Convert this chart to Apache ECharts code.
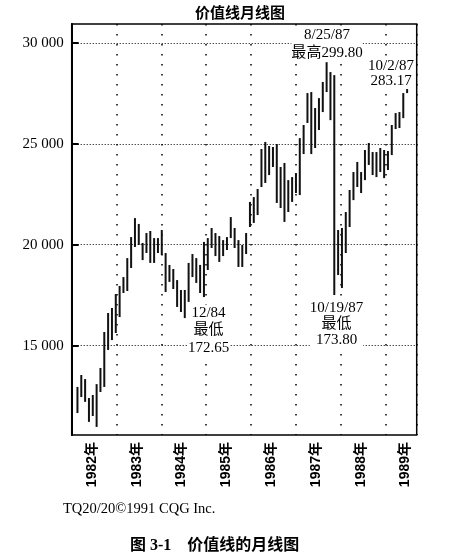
<!DOCTYPE html>
<html><head><meta charset="utf-8">
<script src="https://cdn.jsdelivr.net/npm/echarts@6/dist/echarts.min.js"></script>
<style>html,body{margin:0;padding:0;background:#fff}#c{width:453px;height:556px}</style>
</head><body><div id="c"></div>
<script>
// ---- data ----
const yearLabels = [1982, 1983, 1984, 1985, 1986, 1987, 1988, 1989];
const yTicks = [15000, 20000, 25000, 30000];
// 90 monthly periods on the axis, first bar in 1982-01
const categories = Array.from({length: 90}, (_, k) => {
  const m = 11 + k;
  return (1981 + Math.floor(m / 12)) + '-' + String(m % 12 + 1).padStart(2, '0');
});
const firstBarPeriod = '1982-01';
const lows = [
  11670, 12460, 12220, 11230, 11520, 10980, 12710, 12960, 14790, 15280,
  15630, 16420, 17610, 17710, 18850, 19890, 19990, 19240, 19590, 19100,
  19100, 19590, 19490,
  17660, 18160, 17810, 16920, 16670, 16370, 17170, 18400, 18110, 17610,
  17410, 18750, 19840, 19440, 19150, 19440, 19740, 20330, 19840, 18900,
  18900, 19540, 20880,
  21080, 21470, 22860, 23060, 23450, 23850, 22070, 21820, 21130, 21620,
  22120, 22560, 22460, 24490, 26030, 24490, 24790, 25680, 26570, 27560,
  26170, 17510,
  18500, 17860, 19590, 20880, 22210, 22860, 22560, 23200, 23950, 23450,
  23350, 23600, 23300, 23700, 24440, 25730, 25780, 26270, 27510
];
const highs = [
  12960, 13550, 13350, 12410, 12560, 13100, 13900, 15680, 16620, 16870,
  17560, 17960, 18400, 19340, 20380, 21320, 21030, 20090, 20580, 20680,
  20330, 20330, 20730,
  19590, 19000, 18800, 18250, 17760, 17760, 19100, 19540, 19340, 19000,
  20140, 20330, 20830, 20580, 20430, 20230, 20380, 21370, 20830, 20230,
  19990, 20580, 22120,
  22360, 22760, 24740, 25090, 24890, 24840, 24990, 23850, 24050, 23200,
  23350, 23550, 25280, 25930, 27510, 27560, 26770, 27260, 28060, 29040,
  28550, 28400,
  20730, 20830, 21620, 22710, 23600, 24100, 23600, 24690, 25040, 24590,
  24590, 24790, 24690, 24640, 25930, 26520, 26570, 27510, 27710
];
const titleText = '价值线月线图';
const notePeak = '8/25/87\n最高299.80';
const noteLast = '10/2/87\n283.17';
const noteLow84 = '12/84\n最低\n172.65';
const noteLow87 = '10/19/87\n最低\n173.80';
const sourceText = 'TQ20/20©1991 CQG Inc.';
const captionText = '图 3-1    价值线的月线图';

// ---- chart ----
const SERIF = "'Liberation Serif','Noto Sans CJK SC',serif";
const SANS = "'Liberation Sans','Noto Sans CJK SC',sans-serif";
const off = categories.indexOf(firstBarPeriod);
const barData = highs.map((h, i) => [off + i, lows[i], h]);

const chart = echarts.init(document.getElementById('c'), null, {renderer: 'canvas'});
chart.setOption({
  animation: false,
  backgroundColor: '#fff',
  grid: {left: 71.7, right: 36.3, top: 24, bottom: 121, show: true,
         borderColor: '#000', borderWidth: 1.5, backgroundColor: 'transparent'},
  xAxis: [
    {type: 'category', data: categories, boundaryGap: true, show: false},
    {type: 'value', min: 1982, max: 1989.7, interval: 1, position: 'bottom',
     axisLine: {show: false}, axisTick: {show: false},
     splitLine: {show: true, lineStyle: {color: '#000', type: [1.5, 8.5], width: 1.5}},
     axisLabel: {customValues: yearLabels.map(y => y + 0.45), rotate: 90,
       formatter: v => Math.floor(v + 0.001) + '年', margin: 7,
       fontSize: 14, fontWeight: 'bold', fontFamily: SANS, color: '#000'}}
  ],
  yAxis: {type: 'value', min: 10580, max: 30930,
    axisLine: {show: true, lineStyle: {color: '#000', width: 2}},
    axisTick: {show: true, inside: true, length: 7, customValues: yTicks,
               lineStyle: {color: '#000', width: 2}},
    axisLabel: {customValues: yTicks, margin: 8, fontSize: 15, fontFamily: SERIF, color: '#000',
      formatter: v => String(v).replace(/\B(?=(\d{3})+$)/g, ' ')},
    splitLine: {show: false}},
  series: [{
    type: 'custom', xAxisIndex: 0, yAxisIndex: 0, data: barData,
    encode: {x: 0, y: [1, 2]},
    renderItem: (params, api) => {
      const x = api.value(0);
      const lo = api.coord([x, api.value(1)]);
      const hi = api.coord([x, api.value(2)]);
      return {type: 'line', shape: {x1: lo[0], y1: lo[1], x2: hi[0], y2: hi[1]},
              style: {stroke: '#111', lineWidth: 2}};
    },
    markLine: {silent: true, symbol: ['none', 'none'], label: {show: false},
      lineStyle: {color: '#000', type: [1, 2], width: 1.2},
      data: yTicks.map(v => ({yAxis: v}))}
  }],
  graphic: [
    {type: 'text', z: 100, x: 240, y: 12, style: {text: titleText, textAlign: 'center', textVerticalAlign: 'middle',
      font: "bold 15px 'Noto Sans CJK SC'", fill: '#000'}},
    {type: 'text', z: 100, x: 327, y: 44, style: {text: notePeak, textAlign: 'center', textVerticalAlign: 'middle',
      font: '15px ' + SERIF, lineHeight: 18, fill: '#000', backgroundColor: '#fff'}},
    {type: 'text', z: 100, x: 391, y: 73.5, style: {text: noteLast, textAlign: 'center', textVerticalAlign: 'middle',
      font: '15px ' + SERIF, lineHeight: 15, fill: '#000', backgroundColor: '#fff'}},
    {type: 'text', z: 100, x: 208.5, y: 330.5, style: {text: noteLow84, textAlign: 'center', textVerticalAlign: 'middle',
      font: '15px ' + SERIF, lineHeight: 17.4, fill: '#000', backgroundColor: '#fff'}},
    {type: 'text', z: 100, x: 336.5, y: 324, style: {text: noteLow87, textAlign: 'center', textVerticalAlign: 'middle',
      font: '15px ' + SERIF, lineHeight: 16.2, fill: '#000', backgroundColor: '#fff'}},
    {type: 'text', z: 100, x: 63, y: 509, style: {text: sourceText, textAlign: 'left', textVerticalAlign: 'middle',
      font: '14.5px ' + SERIF, fill: '#000'}},
    {type: 'text', z: 100, x: 130, y: 546, style: {text: captionText, textAlign: 'left', textVerticalAlign: 'middle',
      font: 'bold 16px ' + SERIF, fill: '#000'}}
  ]
});
</script></body></html>
